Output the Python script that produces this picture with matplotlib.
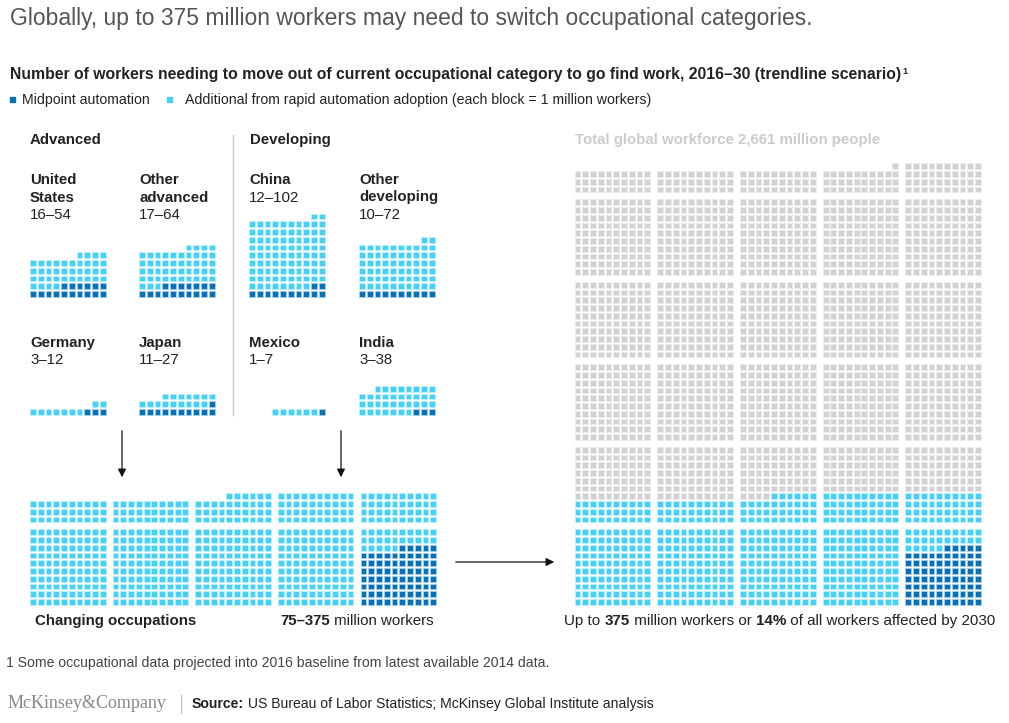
import matplotlib.pyplot as plt
from matplotlib.patches import Rectangle

plt.rcParams['font.family'] = ['Liberation Sans', 'DejaVu Sans']

# small waffles: name, low (midpoint), high (rapid adoption)
countries = ["United\nStates", "Other\nadvanced", "China", "Other\ndeveloping",
             "Germany", "Japan", "Mexico", "India"]
low = [16, 17, 12, 10, 3, 11, 1, 3]
high = [54, 64, 102, 72, 12, 27, 7, 38]

# big grids: five columns of blocks
affected_cols = [130, 130, 136, 140, 140]
dark_cols = [0, 0, 0, 0, 75]
workforce_cols = [530, 530, 530, 531, 540]

LIGHT, LIGHT_E = "#45d0f5", "#bdeefb"
DARK, DARK_E = "#0b6fb4", "#9fd0ee"
GRAY, GRAY_E = "#d2d2d4", "#ececec"

W, H = 1009, 723
fig = plt.figure(figsize=(W / 100, H / 100), dpi=100)
ax = fig.add_axes([0, 0, 1, 1])
ax.set_xlim(0, W)
ax.set_ylim(H, 0)
ax.axis("off")

P = 7.75   # pitch
S = 5.8    # square size


def waffle(x0, ybot, total, dark, gray_total=0, chunk_gap=0):
    n = max(total, gray_total)
    for i in range(n):
        row, k = divmod(i, 10)
        col = 9 - k
        y = ybot - row * P - (row // 10) * chunk_gap
        if i < dark:
            fc, ec = DARK, DARK_E
        elif i < total:
            fc, ec = LIGHT, LIGHT_E
        else:
            fc, ec = GRAY, GRAY_E
        ax.add_patch(Rectangle((x0 + col * P - S / 2, y - S / 2), S, S,
                               facecolor=fc, edgecolor=ec, lw=0.6))


def segments(x, y, parts, size, color="#222"):
    r = fig.canvas.get_renderer()
    for s, bold in parts:
        t = ax.text(x, y, s, fontsize=size, color=color,
                    fontweight="bold" if bold else "normal", va="center", ha="left")
        x += t.get_window_extent(r).width
    return x


# titles
ax.text(10, 18, "Globally, up to 375 million workers may need to switch occupational categories.",
        fontsize=16.5, color="#555555", va="center")
xe = segments(10, 75, [("Number of workers needing to move out of current occupational category to go find work, 2016–30 (trendline scenario)", True)], 11.3)
ax.text(xe + 1, 71, "1", fontsize=6.5, fontweight="bold", color="#222", va="center")
ax.add_patch(Rectangle((10, 97), 5, 5, color=DARK))
ax.text(22, 100, "Midpoint automation", fontsize=10.2, color="#222", va="center")
ax.add_patch(Rectangle((167, 97), 5, 5, color=LIGHT))
ax.text(185, 100, "Additional from rapid automation adoption (each block = 1 million workers)",
        fontsize=10.2, color="#222", va="center")

ax.text(30, 140, "Advanced", fontsize=10.8, fontweight="bold", color="#222", va="center")
ax.text(250, 140, "Developing", fontsize=10.8, fontweight="bold", color="#222", va="center")
ax.plot([233, 233], [135, 415], color="#c8c8c8", lw=1)
ax.text(575, 140, "Total global workforce 2,661 million people", fontsize=10.8,
        fontweight="bold", color="#cbcbcb", va="center")

# small waffles
xs = [33, 142, 252, 362, 33, 142, 252, 362]
ys = [294, 294, 294, 294, 412, 412, 412, 412]
for name, lo, hi, x, y in zip(countries, low, high, xs, ys):
    waffle(x, y, hi, lo)
    ytop = 180 if y < 300 else 343
    for j, line in enumerate(name.split("\n")):
        ax.text(x - 3, ytop + j * 17.5, line, fontsize=10.8, fontweight="bold",
                color="#222", va="center")
    ax.text(x - 3, ytop + 17.5 * (name.count("\n") + 1), f"{lo}–{hi}",
            fontsize=10.8, color="#222", va="center")

# arrows
for xa in [122, 341]:
    ax.annotate("", xy=(xa, 480), xytext=(xa, 428),
                arrowprops=dict(arrowstyle="-|>", color="#111", lw=0.9, mutation_scale=12))
ax.annotate("", xy=(557, 562), xytext=(453, 562),
            arrowprops=dict(arrowstyle="-|>", color="#111", lw=0.9, mutation_scale=12))

# combined grids
for i, (a, d) in enumerate(zip(affected_cols, dark_cols)):
    waffle(33 + i * 82.6, 602, a, d, chunk_gap=5)
for i, (a, d, g) in enumerate(zip(affected_cols, dark_cols, workforce_cols)):
    waffle(577.5 + i * 82.7, 602, a, d, gray_total=g, chunk_gap=5)

ax.text(35, 621, "Changing occupations", fontsize=10.8, fontweight="bold", color="#222", va="center")
segments(280, 621, [("75–375", True), (" million workers", False)], 10.8)
segments(564, 621, [("Up to ", False), ("375", True), (" million workers or ", False),
                    ("14%", True), (" of all workers affected by 2030", False)], 10.9)

ax.text(6, 663, "1 Some occupational data projected into 2016 baseline from latest available 2014 data.",
        fontsize=10.1, color="#444", va="center")
ax.text(8, 704, "McKinsey&Company", fontsize=13, family=["Liberation Serif", "DejaVu Serif"],
        color="#888", va="center")
ax.plot([181, 181], [695, 713], color="#bbb", lw=0.8)
segments(192, 704, [("Source:", True), (" US Bureau of Labor Statistics; McKinsey Global Institute analysis", False)],
         10.1)

fig.savefig("out.png", dpi=100)
